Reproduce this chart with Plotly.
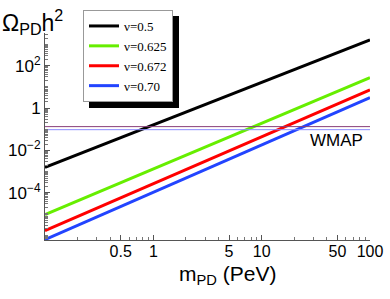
import plotly.graph_objects as go

# Data: straight lines on log-log axes, endpoints
m_pd = [0.1, 100]
series_names = ["ν=0.5", "ν=0.625", "ν=0.672", "ν=0.70"]
omega_nu050 = [10**-2.80, 10**3.22]
omega_nu0625 = [10**-5.03, 10**1.44]
omega_nu0672 = [10**-5.79, 10**0.86]
omega_nu070 = [10**-6.21, 10**0.50]
series_colors = ["#000000", "#66ee00", "#ff0000", "#2244ff"]

wmap_upper = 0.134
wmap_lower = 0.096

x_tickvals = [0.5, 1, 5, 10, 50, 100]
x_ticktext = ["0.5", "1", "5", "10", "50", "100"]
y_tickvals = [1e2, 1, 1e-2, 1e-4]
y_ticktext = ["10<sup>2</sup>", "1", "10<sup>−2</sup>", "10<sup>−4</sup>"]

fig = go.Figure()
for name, ys, col in zip(series_names,
                         [omega_nu050, omega_nu0625, omega_nu0672, omega_nu070],
                         series_colors):
    fig.add_trace(go.Scatter(x=m_pd, y=ys, mode="lines", name=name,
                             line=dict(color=col, width=3)))

fig.add_trace(go.Scatter(x=m_pd, y=[wmap_upper, wmap_upper], mode="lines",
                         line=dict(color="#8a3f7a", width=1), showlegend=False))
fig.add_trace(go.Scatter(x=m_pd, y=[wmap_lower, wmap_lower], mode="lines",
                         line=dict(color="#8c8cff", width=1), showlegend=False))

L, R, T, B = 45, 20, 33, 59
W, H = 390, 299
pw, ph = W - L - R, H - T - B

def px(xp):
    return (xp - L) / pw

def py(yp):
    return (H - B - yp) / ph

fig.update_layout(
    width=W, height=H,
    margin=dict(l=L, r=R, t=T, b=B, autoexpand=False),
    paper_bgcolor="white", plot_bgcolor="white",
    font=dict(family="Liberation Sans, Arial, sans-serif", color="black"),
    showlegend=True,
    legend=dict(x=px(83), y=py(10), xanchor="left", yanchor="top",
                bgcolor="white", bordercolor="#999999", borderwidth=1,
                font=dict(family="Liberation Serif, Times New Roman, serif", size=13),
                itemwidth=30, tracegroupgap=0),
    xaxis=dict(type="log", range=[-1, 2], showgrid=False, zeroline=False,
               automargin=False,
               showline=True, linecolor="#555555", linewidth=1,
               tickmode="array", tickvals=x_tickvals, ticktext=x_ticktext,
               ticks="inside", ticklen=5, tickcolor="#555555",
               tickfont=dict(size=16), ticklabelstandoff=-3,
               minor=dict(ticks="inside", ticklen=3, tickcolor="#777777",
                          dtick="D1", showgrid=False)),
    yaxis=dict(type="log", range=[-6.23, 3.55], showgrid=False, zeroline=False,
               automargin=False,
               showline=True, linecolor="#555555", linewidth=1,
               tickmode="array", tickvals=y_tickvals, ticktext=y_ticktext,
               ticks="inside", ticklen=5, tickcolor="#555555",
               tickfont=dict(size=17),
               minor=dict(ticks="inside", ticklen=3, tickcolor="#777777",
                          dtick="D1", showgrid=False)),
    shapes=[dict(type="rect", xref="paper", yref="paper",
                 x0=px(89), x1=px(179), y0=py(108), y1=py(16),
                 fillcolor="black", line=dict(width=0), layer="above")],
    annotations=[
        dict(text="WMAP", xref="paper", yref="paper", x=px(336), y=py(140),
             showarrow=False, font=dict(size=17), xanchor="center", yanchor="middle"),
        dict(text="Ω<sub>PD</sub>h<sup>2</sup>", xref="paper", yref="paper",
             x=px(0), y=py(22), xanchor="left", yanchor="middle",
             showarrow=False, font=dict(size=23)),
        dict(text="m<sub>PD</sub> (PeV)", xref="paper", yref="paper",
             x=px(228), y=py(275), xanchor="center", yanchor="middle",
             showarrow=False, font=dict(size=21)),
    ],
)

fig.write_html("out.html", config={"displayModeBar": False},
               post_script="document.body.style.margin='0';document.body.style.padding='0';")
